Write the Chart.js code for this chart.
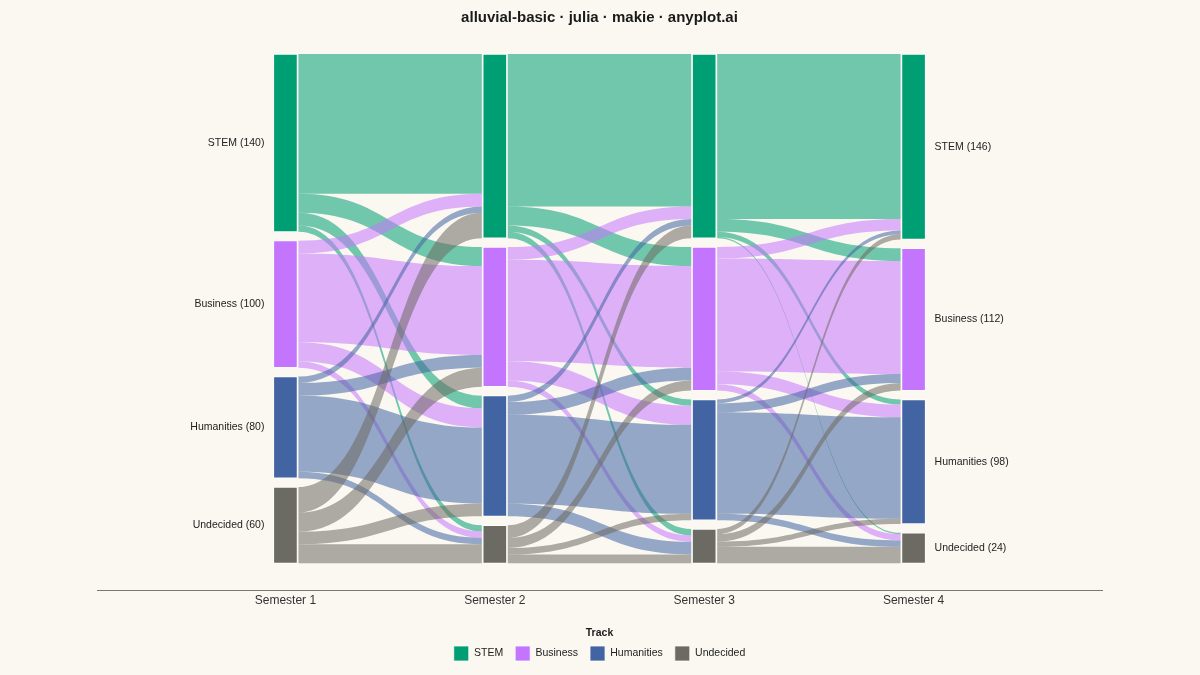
<!DOCTYPE html>
<html>
<head>
<meta charset="utf-8">
<script src="https://cdn.jsdelivr.net/npm/chart.js@4.4.1/dist/chart.umd.min.js"></script>
<style>
  html, body { margin: 0; padding: 0; background: #FAF8F1; }
  #wrap { width: 1200px; height: 675px; }
</style>
</head>
<body>
<div id="wrap"><canvas id="alluvial" width="1200" height="675"></canvas></div>
<script>
// semesters and tracks
const semesters = ['Semester 1', 'Semester 2', 'Semester 3', 'Semester 4'];
const tracks = ['STEM', 'Business', 'Humanities', 'Undecided'];
const trackColors = ['#009E73', '#C475FD', '#4264A3', '#6B6A63'];

// student moves between semesters: row = from track, column = to track
const flows12 = [
  [110, 15, 10, 5],
  [10, 70, 15, 5],
  [5, 10, 60, 5],
  [20, 15, 10, 15]
];
const flows23 = [
  [120, 15, 5, 5],
  [10, 80, 15, 5],
  [5, 10, 70, 10],
  [10, 8, 5, 7]
];
const flows34 = [
  [130, 10, 4, 1],
  [9, 89, 10, 5],
  [3, 7, 80, 5],
  [4, 6, 4, 13]
];
const transitions = [flows12, flows23, flows34];
const gap = 7; // students worth of space between stacked nodes

// node sizes per semester
const rowSums = m => m.map(r => r.reduce((a, b) => a + b, 0));
const colSums = m => m[0].map((_, j) => m.reduce((a, r) => a + r[j], 0));
const totals = [rowSums(flows12)].concat(transitions.map(colSums));

// stack the nodes top to bottom
const nodes = totals.map(col => {
  let y = 0;
  return col.map(v => { const n = [y, y + v]; y += v + gap; return n; });
});

const hexA = (hex, a) => {
  const n = parseInt(hex.slice(1), 16);
  return `rgba(${n >> 16}, ${(n >> 8) & 255}, ${n & 255}, ${a})`;
};

const datasets = tracks.map((t, k) => ({
  label: t,
  data: nodes.map((col, i) => ({ x: i, y: col[k] })),
  backgroundColor: trackColors[k],
  borderColor: 'rgba(255,255,255,0.75)',
  borderWidth: 1,
  borderSkipped: false,
  barThickness: 24,
  grouped: false
}));

const flowPlugin = {
  id: 'flows',
  beforeDatasetsDraw(chart) {
    const { ctx } = chart;
    const ys = chart.scales.y;
    const half = chart.getDatasetMeta(0).data[0].width / 2;
    transitions.forEach((m, i) => {
      const x0 = chart.scales.x.getPixelForValue(i) + half + 1;
      const x1 = chart.scales.x.getPixelForValue(i + 1) - half - 1;
      const xm = (x0 + x1) / 2;
      // running offsets inside each source / target node
      const outPos = nodes[i].map(n => n[0]);
      const inPos = nodes[i + 1].map(n => n[0]);
      const bands = [];
      m.forEach((row, s) => row.forEach((v, t) => {
        bands.push({ s, a0: outPos[s], a1: outPos[s] + v, b0: 0, b1: 0, t, v });
        outPos[s] += v;
      }));
      for (let t = 0; t < 4; t++) {
        bands.filter(b => b.t === t).forEach(b => { b.b0 = inPos[t]; b.b1 = inPos[t] + b.v; inPos[t] += b.v; });
      }
      bands.forEach(b => {
        if (!b.v) return;
        const ya0 = ys.getPixelForValue(b.a0), ya1 = ys.getPixelForValue(b.a1);
        const yb0 = ys.getPixelForValue(b.b0), yb1 = ys.getPixelForValue(b.b1);
        ctx.save();
        ctx.beginPath();
        ctx.moveTo(x0, ya0);
        ctx.bezierCurveTo(xm, ya0, xm, yb0, x1, yb0);
        ctx.lineTo(x1, yb1);
        ctx.bezierCurveTo(xm, yb1, xm, ya1, x0, ya1);
        ctx.closePath();
        ctx.fillStyle = hexA(trackColors[b.s], 0.55);
        ctx.fill();
        ctx.restore();
      });
    });
  },
  afterDatasetsDraw(chart) {
    const { ctx } = chart;
    const xs = chart.scales.x, ys = chart.scales.y;
    const half = chart.getDatasetMeta(0).data[0].width / 2;
    const last = semesters.length - 1;
    ctx.save();
    ctx.font = '10.5px "Liberation Sans", Arial, sans-serif';
    ctx.fillStyle = '#222';
    ctx.textBaseline = 'middle';
    tracks.forEach((t, k) => {
      const n0 = nodes[0][k], n1 = nodes[last][k];
      ctx.textAlign = 'right';
      ctx.fillText(`${t} (${totals[0][k]})`, xs.getPixelForValue(0) - half - 9, ys.getPixelForValue((n0[0] + n0[1]) / 2));
      ctx.textAlign = 'left';
      ctx.fillText(`${t} (${totals[last][k]})`, xs.getPixelForValue(last) + half + 9, ys.getPixelForValue((n1[0] + n1[1]) / 2));
    });
    ctx.restore();
  }
};

const bgPlugin = {
  id: 'bg',
  beforeDraw(chart) {
    const { ctx } = chart;
    ctx.save();
    ctx.fillStyle = '#FAF8F1';
    ctx.fillRect(0, 0, chart.width, chart.height);
    ctx.restore();
  }
};

new Chart(document.getElementById('alluvial'), {
  type: 'bar',
  data: { datasets },
  plugins: [bgPlugin, flowPlugin],
  options: {
    responsive: false,
    animation: false,
    layout: { padding: { left: 97, right: 98, top: 0, bottom: 4 } },
    scales: {
      x: {
        type: 'linear',
        offset: false,
        min: -0.9,
        max: 3.9,
        afterBuildTicks: scale => { scale.ticks = semesters.map((_, i) => ({ value: i })); },
        ticks: {
          callback: v => semesters[v],
          padding: 3,
          color: '#333',
          font: { size: 12, family: '"Liberation Sans", Arial, sans-serif' },
          maxRotation: 0,
          autoSkip: false
        },
        grid: { display: false, drawTicks: false },
        border: { display: true, color: '#777', width: 1 }
      },
      y: {
        type: 'linear',
        reverse: true,
        min: -17.3,
        max: 422,
        display: false
      }
    },
    plugins: {
      title: {
        display: true,
        text: 'alluvial-basic · julia · makie · anyplot.ai',
        color: '#1a1a1a',
        font: { size: 15, weight: 'bold', family: '"Liberation Sans", Arial, sans-serif' },
        padding: { top: 9, bottom: 5 }
      },
      legend: {
        position: 'bottom',
        title: {
          display: true,
          text: 'Track',
          color: '#1a1a1a',
          font: { size: 10.5, weight: 'bold', family: '"Liberation Sans", Arial, sans-serif' },
          padding: { top: 17, bottom: -6 }
        },
        labels: {
          boxWidth: 15,
          boxHeight: 15,
          padding: 12,
          color: '#222',
          font: { size: 10.5, family: '"Liberation Sans", Arial, sans-serif' }
        }
      },
      tooltip: { enabled: false }
    }
  }
});
</script>
</body>
</html>
